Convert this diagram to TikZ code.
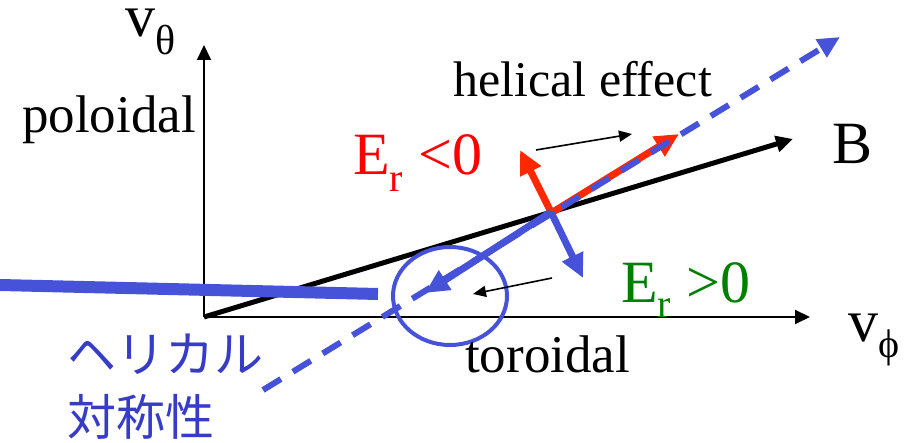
\documentclass[tikz,border=0pt]{standalone}
\usepackage{fontspec}
\setmainfont{Liberation Serif}
\newfontfamily\jpfont{Noto Sans CJK JP}
\usetikzlibrary{arrows.meta}

\definecolor{helblue}{RGB}{70,82,215}
\definecolor{jpblue}{RGB}{55,60,200}
\definecolor{erred}{RGB}{255,40,0}
\definecolor{ergreen}{RGB}{0,128,0}
\newcommand{\lowsub}[2][17pt]{\raisebox{-#1}{\fontsize{40}{40}\selectfont #2}}

\begin{document}
\begin{tikzpicture}[
    x=1pt, y=-1pt,
    lbl/.style={anchor=base west, inner sep=0pt, font=\fontsize{53}{60}\selectfont},
    biglbl/.style={lbl, font=\fontsize{60}{66}\selectfont},
    axisline/.style={line width=2pt, -{Triangle[length=15pt,width=14pt]}},
    hint/.style={line width=1.6pt, -{Triangle[length=13pt,width=11pt]}},
    vec/.style={line width=7pt, -{Triangle[length=24pt,width=22pt]}}
]
    \useasboundingbox (0,0) rectangle (914,443);

    % points
    \coordinate (O)    at (204,317);
    \coordinate (vtip) at (204,45);
    \coordinate (htip) at (810,317);
    \coordinate (Btip) at (793,139);
    \coordinate (P)    at (551,212);
    \coordinate (rpar) at (679,134);
    \coordinate (rperp) at (520,150);
    \coordinate (bpar) at (425,293);
    \coordinate (bperp) at (583,278);
    \coordinate (hs)   at (263,390);
    \coordinate (he)   at (840,37);
    \coordinate (L1)   at (0,285);
    \coordinate (L2)   at (378,294);
    \coordinate (ha1)  at (536,150);
    \coordinate (ha2)  at (632,134);
    \coordinate (hb1)  at (552,278);
    \coordinate (hb2)  at (473,294);

    \draw[axisline] (O) -- (vtip);
    \draw[axisline] (O) -- (htip);
    \draw[line width=5pt, -{Triangle[length=17pt,width=16pt]}] (O) -- (Btip);

    \draw[vec, erred] ([shift={(-3,3)}]P) -- (rpar);
    \draw[vec, erred] (P) -- (rperp);
    \draw[vec, helblue] (P) -- (bperp);
    \draw[vec, helblue] (P) -- (bpar);

    \draw[helblue, line width=6pt, dash pattern=on 21pt off 14pt,
          -{Triangle[length=22pt,width=20pt]}] (hs) -- (he);
    \draw[helblue, line width=4pt] (450,296) ellipse [x radius=57, y radius=49];
    \draw[helblue, line width=12pt] (L1) -- (L2);

    \draw[hint] (ha1) -- (ha2);
    \draw[hint] (hb1) -- (hb2);

    \node[biglbl, text height=28pt] (vth) at (125,37) {v\lowsub[18pt]{\fontsize{42}{42}\selectfont θ}};
    \node[lbl] (pol) at (22,133) {poloidal};
    \node[lbl, font=\fontsize{50}{56}\selectfont] (hel) at (453,97) {helical effect};
    \node[biglbl] (B) at (832,164) {B};
    \node[biglbl, text=red] (Eneg) at (353,175) {E\lowsub{r} <0};
    \node[biglbl, text=ergreen] (Epos) at (621,303) {E\lowsub[15pt]{r} >0};
    \node[biglbl] (vph) at (848,342) {v\lowsub[16pt]{ϕ}};
    \node[lbl] (tor) at (465,373) {toroidal};
    \node[anchor=base west, inner sep=0pt, text=jpblue,
          font=\jpfont\fontsize{49}{63}\selectfont] (jpa) at (67,373) {ヘリカル};
    \node[anchor=base west, inner sep=0pt, text=jpblue,
          font=\jpfont\fontsize{49}{63}\selectfont] (jpb) at (67,436) {対称性};
\end{tikzpicture}
\end{document}
